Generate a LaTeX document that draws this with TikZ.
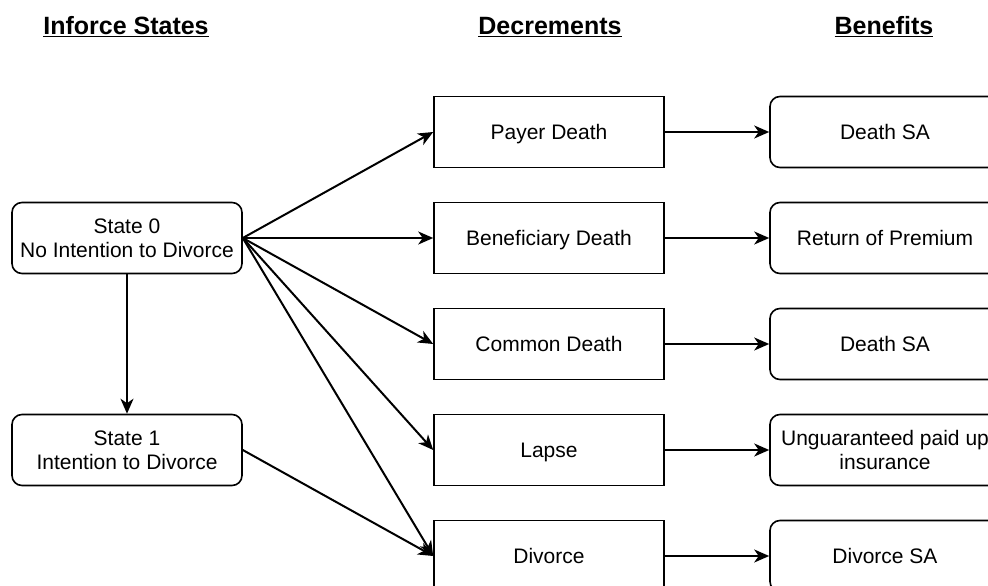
\documentclass[tikz,border=0pt]{standalone}
\usepackage{fontspec}
\setmainfont{Liberation Sans}
\usetikzlibrary{arrows.meta}

\begin{document}
\begin{tikzpicture}[node distance=106pt, x=1pt, y=1pt, line width=1.6pt]
                \useasboundingbox (0,0) rectangle (988,-586);
                \clip (0,0) rectangle (988,-586);
                \tikzstyle{every node}= [font=\fontsize{21}{24}\selectfont, align=center]
                \tikzstyle{state}= [draw=black, line width=1.6pt, rounded corners=10pt, minimum width=230pt, minimum height=71pt]
                \tikzstyle{decrement}= [draw=black, line width=1.6pt, minimum width=230pt, minimum height=71pt, text height=15pt, text depth=0pt]
                \tikzstyle{benefit}= [draw=black, line width=1.6pt, rounded corners=10pt, minimum width=230pt, minimum height=71pt]
                \tikzstyle{oneline}= [text height=15pt, text depth=0pt]
                \tikzstyle{header}= [font=\fontsize{25}{30}\selectfont\bfseries, anchor=base]
                \tikzstyle{flow}= [line width=2pt, -{Stealth[length=15pt,width=13pt,inset=4.5pt]}, black]
                % headings
                \node[header] (h1) at (126,-35) {\underline{Inforce States}};
                \node[header] (h2) at (550,-35) {\underline{Decrements}};
                \node[header] (h3) at (884,-35) {\underline{Benefits}};
                % states
                \node[state] (s0) at (127,-238) {State 0\\No Intention to Divorce};
                \node[state] (s1) [below of=s0, node distance=212pt] {State 1\\Intention to Divorce};
                % decrements
                \node[decrement] (pd) at (549,-132) {Payer Death};
                \node[decrement] (bd) [below of=pd] {Beneficiary Death};
                \node[decrement] (cd) [below of=bd] {Common Death};
                \node[decrement] (lp) [below of=cd] {Lapse};
                \node[decrement] (dv) [below of=lp] {Divorce};
                % benefits
                \node[benefit, oneline] (b1) [right of=pd, node distance=336pt] {Death SA};
                \node[benefit, oneline] (b2) [right of=bd, node distance=336pt] {Return of Premium};
                \node[benefit, oneline] (b3) [right of=cd, node distance=336pt] {Death SA};
                \node[benefit] (b4) [right of=lp, node distance=336pt] {Unguaranteed paid up\\insurance};
                \node[benefit, oneline] (b5) [right of=dv, node distance=336pt] {Divorce SA};

                 \path [flow] (s0) edge (s1)
                              (s0.east) edge (pd.west)
                                        edge (bd.west)
                                        edge (cd.west)
                                        edge (lp.west)
                                        edge (dv.west)
                              (s1.east) edge (dv.west)
                              (pd) edge (b1)
                              (bd) edge (b2)
                              (cd) edge (b3)
                              (lp) edge (b4)
                              (dv) edge (b5);
\end{tikzpicture}
\end{document}
